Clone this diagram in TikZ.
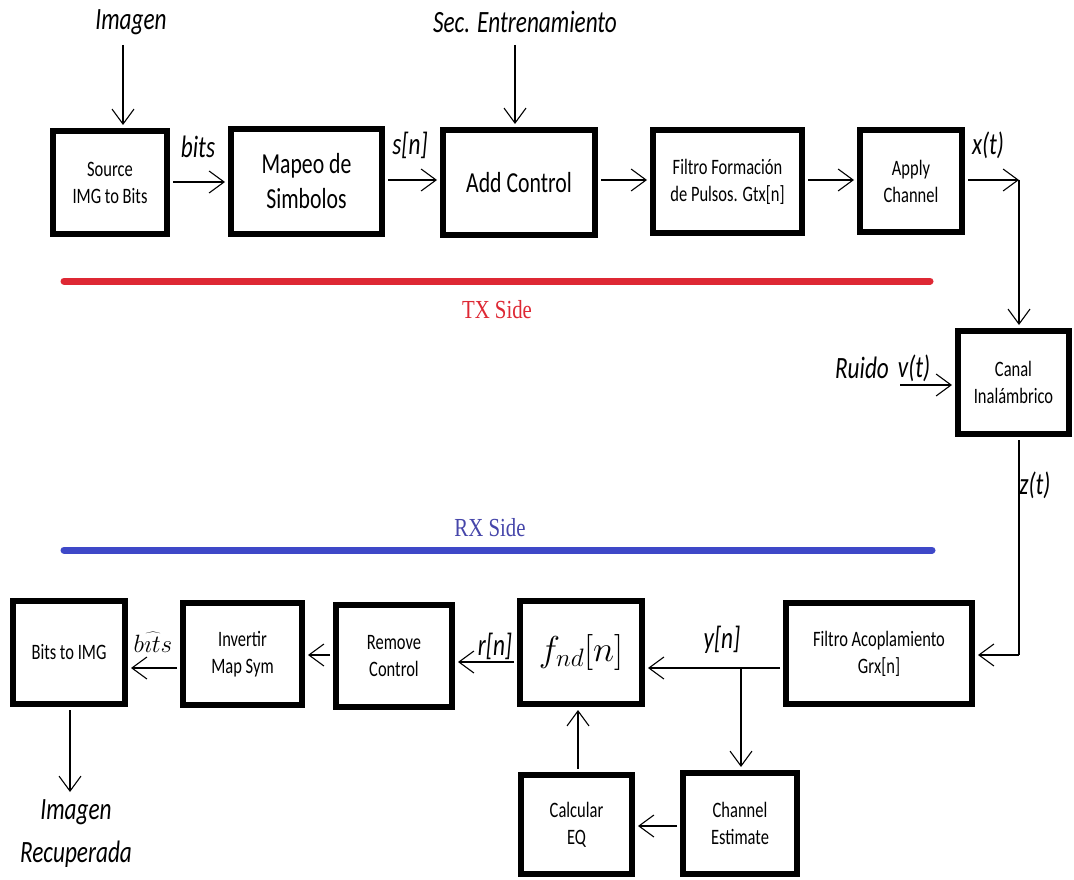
\RequirePackage{fix-cm}
\documentclass[tikz,border=0pt]{standalone}
\usepackage{fontspec}
\usetikzlibrary{arrows.meta,calc}
\newfontfamily\calfnt[FakeStretch=0.75]{Carlito}
\newfontfamily\serx[FakeStretch=0.8]{Liberation Serif}
\definecolor{txred}{RGB}{222,40,52}
\definecolor{rxblue}{RGB}{62,72,200}
\definecolor{rxtext}{RGB}{70,70,170}
\begin{document}
\begin{tikzpicture}[x=1pt,y=-1pt,
  blk/.style={draw, line width=6pt, inner sep=0pt, align=center, font=\calfnt\fontsize{22}{27}\selectfont},
  bigblk/.style={blk, font=\calfnt\fontsize{29}{35}\selectfont},
  lab/.style={inner sep=0pt, align=center, font=\calfnt\itshape\fontsize{31}{43}\selectfont},
  arr/.style={line width=1.1pt, -{Straight Barb[length=15pt,width=22pt,line width=1.1pt]}, shorten >=3pt, shorten <=3pt},
  ln/.style={line width=1.1pt}]
\path[use as bounding box] (0,0) rectangle (1074,880);
\fill[white] (0,0) rectangle (1074,880);
% TX row
\node[blk, minimum width=114pt, minimum height=103pt] (src) at (110,182.5) {Source\\IMG to Bits};
\node[bigblk, minimum width=151pt, minimum height=105pt] (map) at (306.5,181.5) {Mapeo de\\Simbolos};
\node[bigblk, minimum width=152pt, minimum height=105pt] (add) at (519,182.5) {Add Control};
\node[blk, minimum width=149pt, minimum height=103pt] (fil) at (727.5,181.5) {Filtro Formación\\de Pulsos. Gtx[n]};
\node[blk, minimum width=102pt, minimum height=102pt] (app) at (911,181) {Apply\\Channel};
\node[blk, minimum width=111pt, minimum height=103pt] (canal) at (1013.5,382.5) {Canal\\Inalámbrico};
% RX row
\node[blk, minimum width=186pt, minimum height=101pt] (acop) at (879,653.5) {Filtro Acoplamiento\\Grx[n]};
\node[blk, minimum width=122pt, minimum height=103pt, font=\fontsize{36}{42}\selectfont] (fnd) at (581,652.5) {$f_{nd}[n]$};
\node[blk, minimum width=116pt, minimum height=102pt] (rem) at (394,656) {Remove\\Control};
\node[blk, minimum width=119pt, minimum height=102pt] (inv) at (242.5,654) {Invertir\\Map Sym};
\node[blk, minimum width=112pt, minimum height=103pt] (b2i) at (69,652.5) {Bits to IMG};
\node[blk, minimum width=114pt, minimum height=101pt] (chest) at (740,823.5) {Channel\\Estimate};
\node[blk, minimum width=111pt, minimum height=99pt] (calc) at (576.5,824.5) {Calcular\\EQ};
% labels
\node[lab] (limg) at (131,22) {Imagen};
\node[lab] (lsec) at (525,22) {Sec. Entrenamiento};
\node[lab] (lbits) at (198,147) {bits};
\node[lab] (lsn) at (410,145) {s[n]};
\node[lab] (lxt) at (988,145) {x(t)};
\node[lab] (lruido) at (862,368) {Ruido};
\node[lab] (lvt) at (914,368) {v(t)};
\node[lab] (lzt) at (1035,485) {z(t)};
\node[lab] (lyn) at (722,640) {y[n]};
\node[lab] (lrn) at (495,646) {r[n]};
\node[inner sep=0pt, font=\fontsize{25}{28}\selectfont] (lbh) at (153,642) {$\widehat{b\imath ts}$};
\node[lab] (lrec) at (76,834) {Imagen\\Recuperada};
\node[inner sep=0pt, text=txred, font=\serx\fontsize{26}{30}\selectfont] (tx) at (497,310) {TX Side};
\node[inner sep=0pt, text=rxtext, font=\serx\fontsize{26}{30}\selectfont] (rx) at (490,528) {RX Side};
% side lines
\draw[txred, line width=7pt, line cap=round] (64,281) coordinate (t1) -- (930,281) coordinate (t2);
\draw[rxblue, line width=7pt, line cap=round] (64,550) coordinate (r1) -- (932,550) coordinate (r2);
% coordinates
\coordinate (cimg) at (123,45);
\coordinate (csec) at (515,45);
\coordinate (cxt) at (1019,180);
\coordinate (cnz) at (900,385);
\coordinate (czt) at (1019,655);
\coordinate (cbr) at (741,668);
\coordinate (crec) at (70,792);
% TX connectors
\draw[arr, shorten <=0pt] (cimg) -- (cimg |- src.north);
\draw[arr, shorten <=0pt] (csec) -- (csec |- add.north);
\draw[arr] (src.east |- 0,182) -- (map.west |- 0,182);
\draw[arr] (map.east |- 0,180) -- (add.west |- 0,180);
\draw[arr] (add.east |- 0,180) -- (fil.west |- 0,180);
\draw[arr] (fil.east |- 0,180) -- (app.west |- 0,180);
\draw[arr, shorten >=0pt] (app.east |- cxt) -- (cxt);
\draw[arr, shorten <=0pt] (cxt) -- (cxt |- canal.north);
\draw[arr, shorten <=0pt] (cnz) -- (cnz -| canal.west);
% RX connectors
\draw[ln, shorten <=3pt] (czt |- canal.south) -- (czt);
\draw[arr, shorten <=0pt] (czt) -- (czt -| acop.east);
\draw[arr] (acop.west |- cbr) -- (fnd.east |- cbr);
\draw[arr, shorten <=0pt] (cbr) -- (cbr |- chest.north);
\draw[arr] (fnd.west |- 0,662) -- (rem.east |- 0,662);
\draw[arr] (rem.west |- 0,655) -- (inv.east |- 0,655);
\draw[arr] (inv.west |- 0,668) -- (b2i.east |- 0,668);
\draw[arr] (chest.west |- 0,826) -- (calc.east |- 0,826);
\draw[arr] (calc.north -| 578,0) -- (fnd.south -| 578,0);
\draw[arr, shorten >=0pt] (b2i.south -| crec) -- (crec);
\end{tikzpicture}
\end{document}
